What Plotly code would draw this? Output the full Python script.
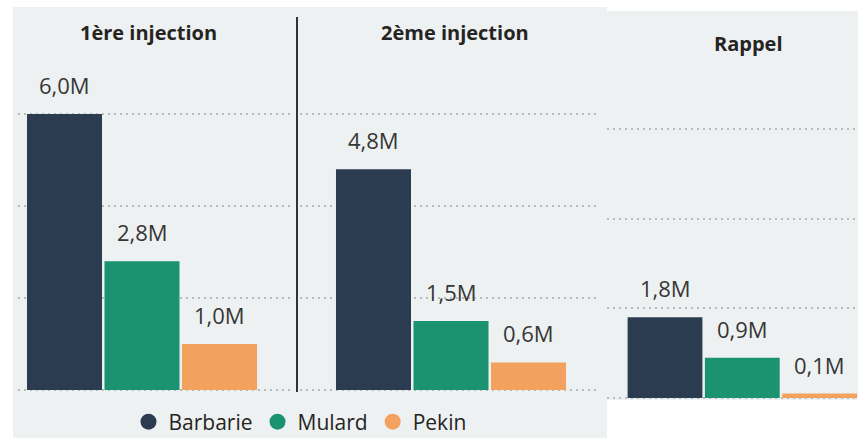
import plotly.graph_objects as go

# ---- data ----
panels = ["1ère injection", "2ème injection", "Rappel"]
breeds = ["Barbarie", "Mulard", "Pekin"]
colors = ["#2C3C50", "#1B9370", "#F3A15F"]
inj1 = [6.0, 2.8, 1.0]      # millions
inj2 = [4.8, 1.5, 0.6]
rappel = [1.8, 0.9, 0.1]
series = [inj1, inj2, rappel]

W, H = 858, 438
BG = "#EEF1F1"
TXT = "#252423"
FONT = "Open Sans"


def px(x):
    return x / W


def py(y):
    return 1 - y / H


def fmt(v):
    return f"{v:.1f}".replace(".", ",") + "M"


# layout geometry per panel: x domain (px), bar-0 center, slot, baseline, px per M, top
geo = [
    dict(x0=18, x1=290, c0=64.5, slot=77.5, base=390, scale=46.0, top=60, tx=148, ty=32),
    dict(x0=300, x1=597, c0=373.5, slot=77.5, base=390, scale=46.0, top=60, tx=455, ty=32),
    dict(x0=607, x1=858, c0=665, slot=77.3, base=398, scale=44.8, top=60, tx=748, ty=43),
]

fig = go.Figure()
annotations = []
layout_axes = {}
for i, (name, vals, g) in enumerate(zip(panels, series, geo)):
    sfx = "" if i == 0 else str(i + 1)
    fig.add_trace(go.Bar(
        x=breeds, y=vals, marker=dict(color=colors, line=dict(width=0)),
        xaxis="x" + sfx, yaxis="y" + sfx, showlegend=False, hoverinfo="skip",
    ))
    pad = 3
    layout_axes["xaxis" + sfx] = dict(
        domain=[px(g["x0"]), px(g["x1"])], type="category",
        range=[(g["x0"] - g["c0"]) / g["slot"], (g["x1"] - g["c0"]) / g["slot"]],
        showgrid=False, showticklabels=False, zeroline=False, showline=False,
        ticks="", anchor="y" + sfx, fixedrange=True,
    )
    layout_axes["yaxis" + sfx] = dict(
        domain=[py(g["base"] + pad), py(g["top"])],
        range=[-pad / g["scale"], (g["base"] - g["top"]) / g["scale"]],
        tick0=0, dtick=2, showgrid=True, gridcolor="#B8BCBE", gridwidth=1.5,
        griddash="1.5px,4.5px", showticklabels=False, zeroline=False, showline=False,
        ticks="", anchor="x" + sfx, fixedrange=True,
    )
    for b, v in zip(breeds, vals):
        annotations.append(dict(
            x=b, y=v, xref="x" + sfx, yref="y" + sfx, text=fmt(v), showarrow=False,
            yanchor="bottom", yshift=12, font=dict(family=FONT, size=22, color="#363636"),
        ))
    annotations.append(dict(
        x=px(g["tx"]), y=py(g["ty"]), xref="paper", yref="paper", text=name,
        showarrow=False, xanchor="center", yanchor="middle",
        font=dict(family=FONT, size=20, color=TXT, weight=700),
    ))

# legend entries as circle markers
for b, c in zip(breeds, colors):
    fig.add_trace(go.Scatter(
        x=[None], y=[None], mode="markers", name=b,
        marker=dict(color=c, size=18, symbol="circle"), xaxis="x", yaxis="y",
    ))

shapes = [
    dict(type="rect", xref="paper", yref="paper", x0=px(13), x1=px(607), y0=0, y1=py(7),
         fillcolor=BG, line=dict(width=0), layer="below"),
    dict(type="rect", xref="paper", yref="paper", x0=px(607), x1=1, y0=py(400), y1=py(11),
         fillcolor=BG, line=dict(width=0), layer="below"),
    dict(type="line", xref="paper", yref="paper", x0=px(297), x1=px(297), y0=py(392), y1=py(17),
         line=dict(color="#333333", width=2)),
]

fig.update_layout(
    width=W, height=H, margin=dict(l=0, r=0, t=0, b=0, autoexpand=False),
    paper_bgcolor="white", plot_bgcolor="rgba(0,0,0,0)",
    bargap=0.032, shapes=shapes, annotations=annotations,
    showlegend=True,
    legend=dict(orientation="h", x=px(300), xanchor="center", y=py(422), yanchor="middle",
                font=dict(family=FONT, size=21, color=TXT), bgcolor="rgba(0,0,0,0)",
                itemsizing="trace", tracegroupgap=0),
    **layout_axes,
)

fig.write_html("out.html", config={"displayModeBar": False},
               post_script="document.body.style.margin='0';")
